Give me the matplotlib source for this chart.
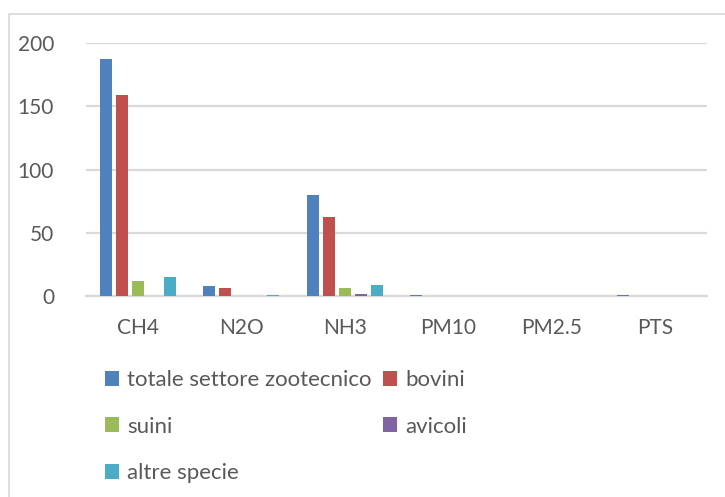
import numpy as np
import matplotlib.pyplot as plt
from matplotlib.patches import Rectangle

# emissioni per inquinante e specie
categories = ["CH4", "N2O", "NH3", "PM10", "PM2.5", "PTS"]
totale = [187, 8, 80, 0.4, 0.3, 0.8]
bovini = [159, 6.2, 62.5, 0.2, 0.15, 0.3]
suini = [11.5, 0, 6.3, 0.1, 0.05, 0.1]
avicoli = [0, 0, 1.6, 0.1, 0.05, 0.1]
altre = [15.3, 1, 8.5, 0.05, 0.03, 0.1]

series = [
    ("totale settore zootecnico", totale, "#4F81BD"),
    ("bovini", bovini, "#C0504D"),
    ("suini", suini, "#9BBB59"),
    ("avicoli", avicoli, "#8064A2"),
    ("altre specie", altre, "#4BACC6"),
]

plt.rcParams["font.family"] = ["Lato", "DejaVu Sans"]
text_col = "#595959"
grid_col = "#d9d9d9"

fig = plt.figure(figsize=(7.25, 4.97), dpi=100)
fig.patch.set_facecolor("white")

# chart-area border (cut by the image edges on right and bottom)
fig.patches.append(Rectangle((9 / 725, -0.1), 1.2, 1 - 14 / 497 + 0.1,
                             transform=fig.transFigure, fill=False,
                             edgecolor=grid_col, linewidth=1.2))

ax = fig.add_axes([86 / 725, 1 - 296 / 497, (707 - 86) / 725, (296 - 43) / 497])
x = np.arange(len(categories))
step = 0.155
width = 0.118
handles = []
for i, (name, vals, col) in enumerate(series):
    b = ax.bar(x + (i - 2) * step, vals, width, color=col, label=name, zorder=3)
    handles.append(b)

ax.set_xlim(-0.5, len(categories) - 0.5)
ax.set_ylim(0, 200)
ax.set_yticks([0, 50, 100, 150, 200])
ax.set_xticks(x)
ax.set_xticklabels(categories)
ax.yaxis.grid(True, color=grid_col, linewidth=1.6, zorder=0)
for s in ["top", "right", "left"]:
    ax.spines[s].set_visible(False)
ax.spines["bottom"].set_color(grid_col)
ax.spines["bottom"].set_linewidth(1.6)
ax.tick_params(axis="both", length=0, labelsize=15, labelcolor=text_col)
ax.tick_params(axis="y", pad=23)
ax.tick_params(axis="x", pad=16)

# legend filled column-wise, so reorder to read row by row
order = [0, 2, 4, 1, 3]
leg = fig.legend([handles[k] for k in order], [series[k][0] for k in order],
                 ncol=2, loc="upper left", bbox_to_anchor=(96 / 725, 1 - 361 / 497),
                 frameon=False, fontsize=16, handlelength=0.65, handleheight=0.65,
                 handletextpad=0.35, labelspacing=1.2, columnspacing=0.5,
                 borderaxespad=0)
for t in leg.get_texts():
    t.set_color(text_col)

fig.savefig("out.png", dpi=100)
